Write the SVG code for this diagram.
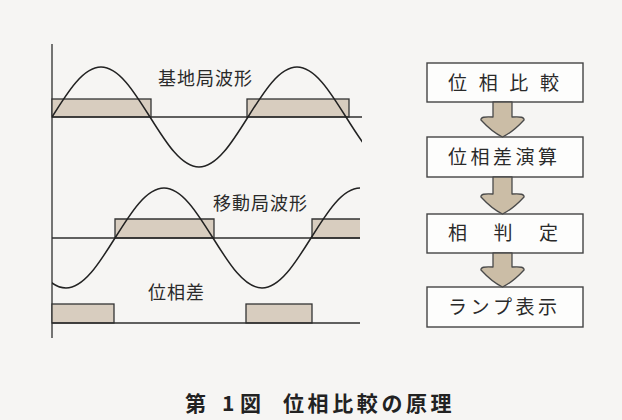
<svg xmlns="http://www.w3.org/2000/svg" width="622" height="420" viewBox="0 0 622 420">
<style>
.bg{fill:#f6f5f3}
.ln{stroke:#2e2e2e;stroke-width:1.3;fill:none}
.wave{stroke:#222;stroke-width:1.5;fill:none}
.bar{fill:#d8cdbf;stroke:#333;stroke-width:1.3}
.box{fill:#fdfdfc;stroke:#444;stroke-width:1.4}
.arr{fill:#cbbda6;stroke:#4a4a4a;stroke-width:1.3;stroke-linejoin:round}
.t{font-family:"Noto Sans CJK JP","Noto Sans",sans-serif;fill:#2a2a2a}
.lbl{font-size:18px;letter-spacing:1px}
.bt{font-size:19px}
.cap{font-size:21px;font-weight:bold;fill:#222}
</style>
<defs>
<clipPath id="c1"><rect x="52" y="30" width="310" height="160"/></clipPath>
<clipPath id="c2"><rect x="52" y="170" width="308" height="140"/></clipPath>
</defs>
<rect class="bg" x="0" y="0" width="622" height="420"/>

<g id="waveforms">
  <line class="ln" x1="52" y1="44" x2="52" y2="338"/>
  <!-- base station -->
  <rect class="bar" x="52" y="99" width="99" height="18"/>
  <rect class="bar" x="247" y="99" width="102" height="18"/>
  <line class="ln" x1="52" y1="117" x2="362" y2="117"/>
  <path class="wave" clip-path="url(#c1)" d="M52,117 c16,-25.6 31.3,-50 49,-50 c17.7,0 33,24.4 49,50 c16,25.6 31.3,50 49,50 c17.7,0 33,-24.4 49,-50 c16,-25.6 31.3,-50 49,-50 c17.7,0 33,24.4 49,50 c16,25.6 31.3,50 49,50"/>
  <!-- mobile station -->
  <path class="bar" d="M115,238 V219 H214 V238 Z"/>
  <path class="bar" d="M360,219 H312 V238 H360"/>
  <line class="ln" x1="52" y1="238" x2="360" y2="238"/>
  <path class="wave" clip-path="url(#c2)" d="M17,238 c16,25.6 31.3,50 49,50 c17.7,0 33,-24.4 49,-50 c16,-25.6 31.3,-50 49,-50 c17.7,0 33,24.4 49,50 c16,25.6 31.3,50 49,50 c17.7,0 33,-24.4 49,-50 c16,-25.6 31.3,-50 49,-50"/>
  <!-- phase difference -->
  <rect class="bar" x="52" y="304" width="62" height="19"/>
  <rect class="bar" x="246" y="304" width="66" height="19"/>
  <line class="ln" x1="52" y1="323" x2="360" y2="323"/>
  <text class="t lbl" x="158" y="85">基地局波形</text>
  <text class="t lbl" x="213" y="210">移動局波形</text>
  <text class="t lbl" x="148" y="299">位相差</text>
</g>

<g id="n1">
  <rect class="box" x="427" y="63" width="156" height="39"/>
  <text class="t bt" x="448 478.7 509.3 540" y="90">位相比較</text>
</g>
<g id="n2">
  <rect class="box" x="427" y="137" width="156" height="40"/>
  <text class="t bt" x="448 470.5 493 515.5 538" y="164">位相差演算</text>
</g>
<g id="n3">
  <rect class="box" x="427" y="214" width="156" height="39"/>
  <text class="t bt" x="448 493.5 539" y="240">相判定</text>
</g>
<g id="n4">
  <rect class="box" x="427" y="287" width="156" height="40"/>
  <text class="t bt" x="448 470.5 493 515.5 538" y="314">ランプ表示</text>
</g>

<g id="connectors">
  <path class="arr" d="M493,102 V117 Q480,116 481,120 Q492,132 502.5,137 Q513,132 524,120 Q525,116 512,117 V102 Z"/>
  <path class="arr" d="M493,177 V194 Q480,193 481,197 Q492,209 502.5,214 Q513,209 524,197 Q525,193 512,194 V177 Z"/>
  <path class="arr" d="M493,253 V267 Q480,266 481,270 Q492,282 502.5,287 Q513,282 524,270 Q525,266 512,267 V253 Z"/>
</g>

<g id="caption">
  <text class="t cap" x="185" y="411">第</text>
  <text class="t cap" x="222" y="411">1</text>
  <text class="t cap" x="240" y="411">図</text>
  <text class="t cap" x="283" y="411" letter-spacing="3.6">位相比較の原理</text>
</g>
</svg>
